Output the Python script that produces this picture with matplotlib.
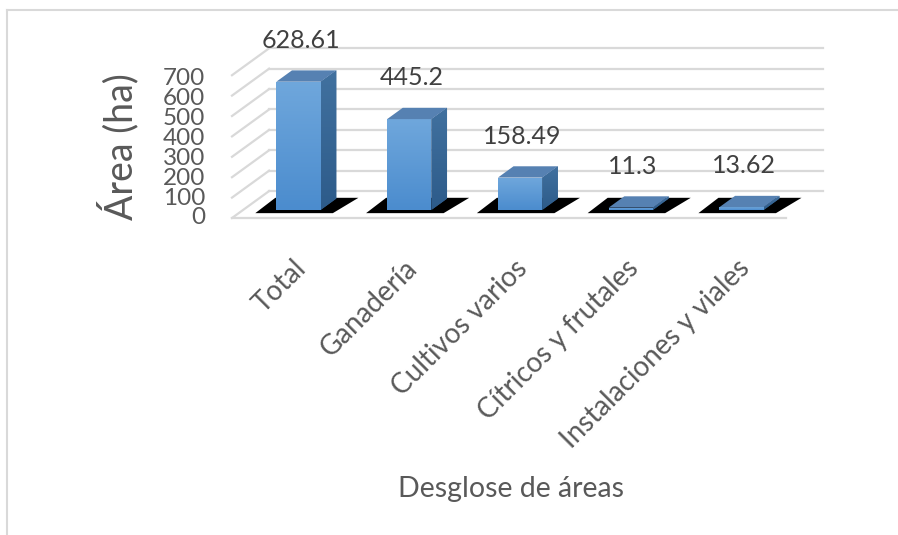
import numpy as np
import matplotlib.pyplot as plt
from matplotlib.patches import Polygon
from matplotlib.lines import Line2D

# data
categories = ["Total", "Ganadería", "Cultivos varios", "Cítricos y frutales", "Instalaciones y viales"]
areas = [628.61, 445.2, 158.49, 11.3, 13.62]
y_ticks = [0, 100, 200, 300, 400, 500, 600, 700]

plt.rcParams['font.family'] = ['Lato', 'DejaVu Sans']
TXT = '#595959'
GRID = '#D9D9D9'

# fake 3d: depth z in [0, 1] shifts points right (in categories) and up (in value units)
DX = 0.335
DY = 132.0
W = 0.4          # bar width
Z0, Z1 = 0.30, 0.72   # bar front / back depth


def proj(x, y, z):
    return (x + z * DX, y + z * DY)


fig = plt.figure(figsize=(8.98, 5.35), dpi=100)
ax = fig.add_axes([232 / 898, 317 / 535, 591 / 898, 179.5 / 535])
ax.set_axis_off()

# chart border (only top and left edges show)
fig.add_artist(Line2D([7 / 898, 1], [1 - 10 / 535] * 2, transform=fig.transFigure, color=GRID, lw=1.5))
fig.add_artist(Line2D([7 / 898] * 2, [0, 1 - 10 / 535], transform=fig.transFigure, color=GRID, lw=1.5))

# back wall and left wall gridlines
x_left = -0.5
x_right = len(categories) - 0.5
for t in y_ticks:
    a = proj(x_left, t, 1)
    b = proj(x_right, t, 1)
    ax.plot([a[0], b[0]], [a[1], b[1]], color=GRID, lw=1.6, zorder=1, clip_on=False)
    c = proj(x_left, t, 0)
    ax.plot([c[0], a[0]], [c[1], a[1]], color=GRID, lw=1.6, zorder=1, clip_on=False)
# floor front edge
ax.plot([x_left, x_right], [0, 0], color=GRID, lw=1.6, zorder=1, clip_on=False)

# y tick labels on the front plane
for t in y_ticks:
    ax.annotate(str(t), xy=(x_left, t * 0.98), xytext=(-27, 0), textcoords='offset pixels',
                ha='right', va='center', fontsize=17.5, color=TXT, annotation_clip=False)

grad = np.linspace(0, 1, 64).reshape(-1, 1)
front_cmap = plt.matplotlib.colors.LinearSegmentedColormap.from_list('f', ['#4B8CCE', '#6FA7DC'])
side_cmap = plt.matplotlib.colors.LinearSegmentedColormap.from_list('s', ['#2D5B8A', '#41719F'])

for i, v in enumerate(areas):
    # shadow on the floor
    sh = [proj(i - 0.35, 0, 0.18), proj(i + 0.35, 0, 0.18),
          proj(i + 0.39, 0, 0.75), proj(i - 0.36, 0, 0.75)]
    ax.add_patch(Polygon(sh, closed=True, facecolor='black', edgecolor='none', zorder=2))

    x0, x1 = i - W / 2, i + W / 2
    front = [proj(x0, 0, Z0), proj(x1, 0, Z0), proj(x1, v, Z0), proj(x0, v, Z0)]
    side = [proj(x1, 0, Z0), proj(x1, 0, Z1), proj(x1, v, Z1), proj(x1, v, Z0)]
    top = [proj(x0, v, Z0), proj(x1, v, Z0), proj(x1, v, Z1), proj(x0, v, Z1)]

    pf = Polygon(front, closed=True, facecolor='#5B9BD5', edgecolor='none', zorder=3)
    ax.add_patch(pf)
    im = ax.imshow(grad, cmap=front_cmap, origin='lower', aspect='auto', zorder=3.1,
                   extent=(front[0][0], front[1][0], front[0][1], front[2][1]))
    im.set_clip_path(pf)

    ps = Polygon(side, closed=True, facecolor='#365F8C', edgecolor='none', zorder=3)
    ax.add_patch(ps)
    im2 = ax.imshow(grad, cmap=side_cmap, origin='lower', aspect='auto', zorder=3.1,
                    extent=(side[0][0], side[1][0], side[0][1], side[2][1]))
    im2.set_clip_path(ps)

    ax.add_patch(Polygon(top, closed=True, facecolor='#5681B2', edgecolor='none', zorder=3.2))

    # value label, centred over the bar front
    lx = i + Z0 * DX + 0.02
    ly = v + Z1 * DY
    ax.annotate(f"{v:g}", xy=(lx, ly), xytext=(0, 30), textcoords='offset pixels',
                ha='center', va='center', fontsize=18, color='#404040', annotation_clip=False)

    # category label
    ax.annotate(categories[i], xy=(i + 0.05, 0), xytext=(0, -37), textcoords='offset pixels',
                ha='right', va='top', rotation=45, rotation_mode='anchor',
                fontsize=20, color=TXT, annotation_clip=False)

ax.set_xlim(-0.5, len(categories) - 0.5 + DX)
ax.set_ylim(0, 880)

fig.text(118 / 898, 1 - 147 / 535, "Área (ha)", rotation=90, ha='center', va='center',
         fontsize=27, color=TXT)
fig.text(511 / 898, 1 - 489 / 535, "Desglose de áreas", ha='center', va='center',
         fontsize=20.5, color=TXT)

fig.savefig("out.png", dpi=100)
